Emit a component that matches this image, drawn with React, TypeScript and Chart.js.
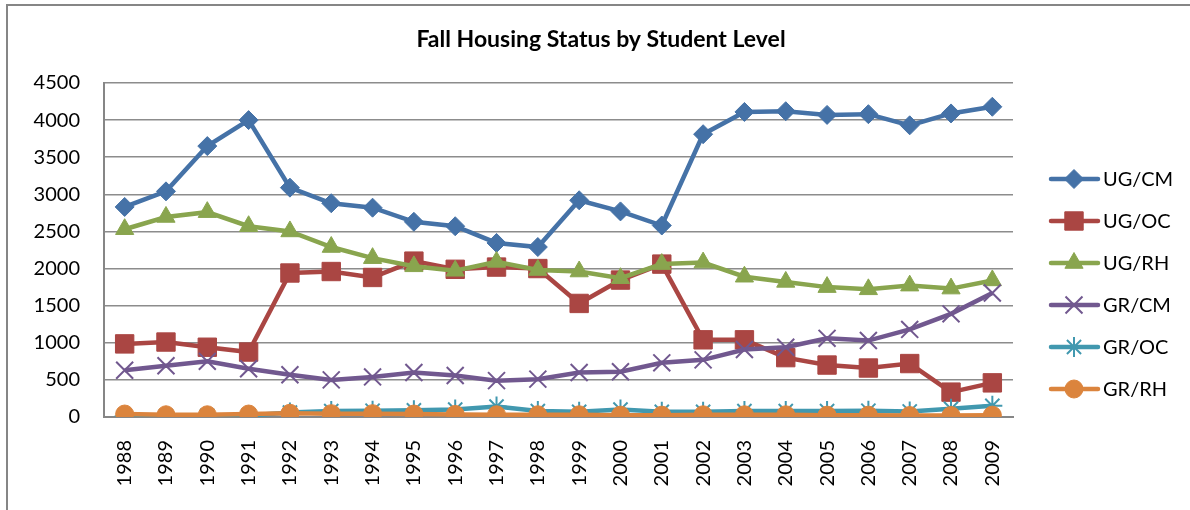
import React, { useEffect, useRef } from "react";
import { Chart, registerables } from "chart.js";
import { drawPoint } from "chart.js/helpers";

Chart.register(...registerables);

const TITLE = "Fall Housing Status by Student Level";
const YEARS = ["1988","1989","1990","1991","1992","1993","1994","1995","1996","1997","1998","1999","2000","2001","2002","2003","2004","2005","2006","2007","2008","2009"];
const UG_CM = [2830,3040,3650,4000,3090,2880,2820,2630,2570,2345,2290,2920,2770,2580,3810,4110,4120,4070,4080,3930,4090,4180];
const UG_OC = [985,1010,940,875,1940,1960,1880,2100,1990,2020,2000,1530,1845,2060,1040,1040,800,700,660,720,335,460];
const UG_RH = [2530,2695,2760,2570,2500,2290,2140,2030,1970,2090,1980,1960,1870,2060,2080,1890,1820,1750,1720,1770,1730,1840];
const GR_CM = [630,690,750,650,570,500,540,600,560,490,510,600,610,730,770,910,940,1060,1030,1180,1390,1670];
const GR_OC = [10,10,15,20,60,80,85,90,100,140,80,70,100,70,70,80,80,80,85,75,110,150];
const GR_RH = [40,30,30,40,50,45,45,40,35,30,30,30,25,25,30,30,30,25,25,20,20,25];
const SERIES_NAMES = ["UG/CM","UG/OC","UG/RH","GR/CM","GR/OC","GR/RH"];
const Y_MAX = 4500;
const Y_STEP = 500;

const FONT = "Lato, 'Open Sans', sans-serif";

const decor = {
  id: "decor",
  afterDraw(chart: any) {
    const ctx = chart.ctx;
    ctx.save();
    ctx.strokeStyle = "#868686";
    ctx.lineWidth = 2;
    ctx.beginPath();
    ctx.moveTo(7, 530);
    ctx.lineTo(7, 5);
    ctx.lineTo(1200, 5);
    ctx.stroke();

    ctx.font = `bold 23px ${FONT}`;
    ctx.fillStyle = "#000";
    ctx.textAlign = "center";
    ctx.textBaseline = "middle";
    ctx.fillText(TITLE, 601, 40);

    chart.data.datasets.forEach((ds: any, i: number) => {
      const y = 179 + i * 42;
      ctx.strokeStyle = ds.borderColor;
      ctx.lineWidth = 4.5;
      ctx.lineCap = "round";
      ctx.beginPath();
      ctx.moveTo(1051, y);
      ctx.lineTo(1098, y);
      ctx.stroke();
      ctx.fillStyle = ds.pointBackgroundColor;
      ctx.strokeStyle = ds.pointBorderColor;
      ctx.lineWidth = ds.pointBorderWidth;
      ctx.lineCap = "butt";
      drawPoint(ctx, { pointStyle: ds.pointStyle, radius: ds.pointRadius, borderWidth: ds.pointBorderWidth, rotation: 0 } as any, 1074, y);
      ctx.fillStyle = "#000";
      ctx.font = `20px ${FONT}`;
      ctx.textAlign = "left";
      ctx.textBaseline = "middle";
      ctx.fillText(ds.label, 1103, y + 1);
    });
    ctx.restore();
  },
};

function mk(label: string, data: number[], color: string, style: string, r: number, order: number, bw = 1) {
  return {
    label,
    data,
    borderColor: color,
    backgroundColor: color,
    borderWidth: 4.5,
    pointStyle: style,
    pointRadius: r,
    pointHoverRadius: r,
    pointBackgroundColor: color,
    pointBorderColor: color,
    pointBorderWidth: bw,
    tension: 0,
    order,
  };
}

export default function App() {
  const ref = useRef<HTMLCanvasElement>(null);
  useEffect(() => {
    document.body.style.margin = "0";
    const chart = new Chart(ref.current!, {
      type: "line",
      data: {
        labels: YEARS,
        datasets: [
          mk(SERIES_NAMES[0], UG_CM, "#4572A7", "rectRot", 9.5, 5),
          mk(SERIES_NAMES[1], UG_OC, "#AA4643", "rect", 13, 4),
          mk(SERIES_NAMES[2], UG_RH, "#89A54E", "triangle", 10.5, 3),
          mk(SERIES_NAMES[3], GR_CM, "#71588F", "crossRot", 12, 2, 2),
          mk(SERIES_NAMES[4], GR_OC, "#4198AF", "star", 10, 1, 2),
          mk(SERIES_NAMES[5], GR_RH, "#DB843D", "circle", 9, 0),
        ] as any,
      },
      options: {
        animation: false,
        responsive: false,
        layout: { padding: { top: 83, right: 177, left: 0, bottom: 0 } },
        plugins: { legend: { display: false }, title: { display: false }, tooltip: { enabled: false } },
        scales: {
          x: {
            offset: true,
            grid: { display: false, drawTicks: false },
            border: { display: true, color: "#868686", width: 2 },
            ticks: {
              minRotation: 90,
              maxRotation: 90,
              padding: 23,
              color: "#000",
              font: { family: FONT, size: 20 },
              autoSkip: false,
            },
            afterFit: (s: any) => { s.height = 93; },
          },
          y: {
            min: 0,
            max: Y_MAX,
            grid: { color: "#8c8c8c", lineWidth: 1.5, drawTicks: false },
            border: { display: true, color: "#868686", width: 2 },
            ticks: {
              stepSize: Y_STEP,
              padding: 24,
              color: "#000",
              font: { family: FONT, size: 20 },
              callback: (v: any) => String(v),
            },
            afterFit: (s: any) => { s.width = 104; },
          },
        },
      },
      plugins: [decor],
    });
    return () => chart.destroy();
  }, []);
  return (
    <div style={{ width: 1190, height: 510 }}>
      <canvas ref={ref} width={1190} height={510} style={{ display: "block" }} />
    </div>
  );
}
